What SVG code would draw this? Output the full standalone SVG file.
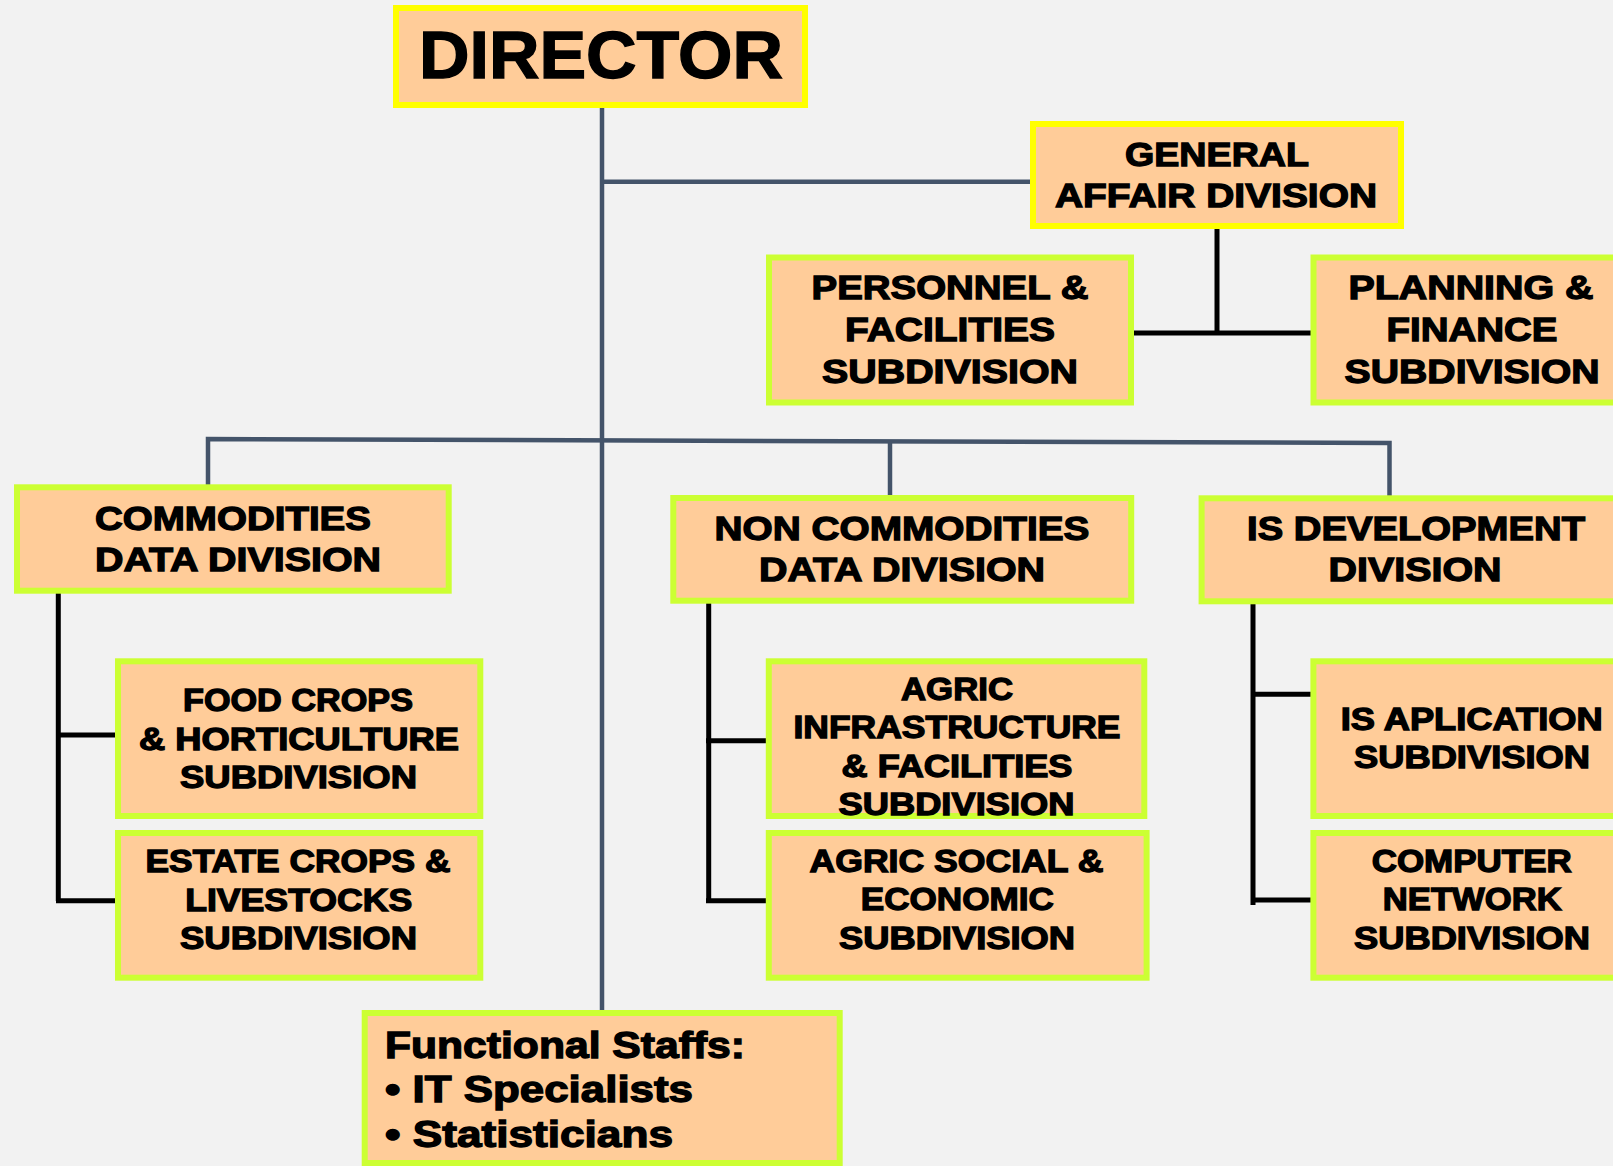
<svg xmlns="http://www.w3.org/2000/svg" width="1613" height="1166" viewBox="0 0 1613 1166">
<style>
.bg{fill:#F2F2F2}
.n{fill:#FFCC99;stroke:#CCFF33;stroke-width:6}
.ny{fill:#FFCC99;stroke:#FFFF00;stroke-width:6}
.t{font-family:"Liberation Sans",Arial,sans-serif;font-weight:bold;fill:#000;stroke:#000;stroke-width:1.3;text-anchor:middle}
.d{font-size:34px}
.s{font-size:31px}
.f{font-size:37px;text-anchor:start}
.sl{stroke:#44546A;stroke-width:4.5;fill:none}
.bk{stroke:#000;stroke-width:5;fill:none}
</style>
<rect class="bg" x="0" y="0" width="1613" height="1166"/>
<g id="connectors">
<line class="sl" x1="602" y1="106" x2="602" y2="1012"/>
<line class="sl" x1="600" y1="181.7" x2="1032" y2="181.7"/>
<polyline class="sl" points="208,487 208,439 1389.5,443 1389.5,498"/>
<line class="sl" x1="890" y1="441" x2="890" y2="496"/>
<line class="bk" x1="1217" y1="226" x2="1217" y2="333"/>
<line class="bk" x1="1132" y1="333" x2="1318" y2="333"/>
<polyline class="bk" points="58.3,592 58.3,901"/>
<line class="bk" x1="56" y1="735" x2="119" y2="735"/>
<line class="bk" x1="56" y1="900.7" x2="119" y2="900.7"/>
<polyline class="bk" points="708.7,602 708.7,901"/>
<line class="bk" x1="706" y1="740.7" x2="769" y2="740.7"/>
<line class="bk" x1="706" y1="900.7" x2="769" y2="900.7"/>
<polyline class="bk" points="1253,602 1253,905"/>
<line class="bk" x1="1251" y1="694.3" x2="1314" y2="694.3"/>
<line class="bk" x1="1251" y1="900" x2="1317" y2="900"/>
</g>
<g id="director">
<rect class="ny" x="396" y="8" width="409" height="97"/>
<text class="t" x="601" y="78" font-size="67" textLength="364" lengthAdjust="spacingAndGlyphs">DIRECTOR</text>
</g>
<g id="general-affair">
<rect class="ny" x="1033" y="124" width="368" height="102"/>
<text class="t d" x="1217" y="165.7" textLength="184" lengthAdjust="spacingAndGlyphs">GENERAL</text>
<text class="t d" x="1216" y="207" textLength="322" lengthAdjust="spacingAndGlyphs">AFFAIR DIVISION</text>
</g>
<g id="personnel">
<rect class="n" x="769" y="257.5" width="362" height="145"/>
<text class="t d" x="950" y="299" textLength="277" lengthAdjust="spacingAndGlyphs">PERSONNEL &amp;</text>
<text class="t d" x="950" y="341" textLength="210" lengthAdjust="spacingAndGlyphs">FACILITIES</text>
<text class="t d" x="950" y="383" textLength="256" lengthAdjust="spacingAndGlyphs">SUBDIVISION</text>
</g>
<g id="planning">
<rect class="n" x="1313.5" y="257.5" width="330" height="145"/>
<text class="t d" x="1471" y="299" textLength="245" lengthAdjust="spacingAndGlyphs">PLANNING &amp;</text>
<text class="t d" x="1472" y="341" textLength="171" lengthAdjust="spacingAndGlyphs">FINANCE</text>
<text class="t d" x="1472" y="383" textLength="255" lengthAdjust="spacingAndGlyphs">SUBDIVISION</text>
</g>
<g id="commodities">
<rect class="n" x="17" y="487.3" width="431.7" height="103.4"/>
<text class="t d" x="233" y="530" textLength="276" lengthAdjust="spacingAndGlyphs">COMMODITIES</text>
<text class="t d" x="238" y="570.7" textLength="286" lengthAdjust="spacingAndGlyphs">DATA DIVISION</text>
</g>
<g id="non-commodities">
<rect class="n" x="673.3" y="498" width="457.9" height="102.7"/>
<text class="t d" x="902" y="540" textLength="375" lengthAdjust="spacingAndGlyphs">NON COMMODITIES</text>
<text class="t d" x="902" y="581" textLength="286" lengthAdjust="spacingAndGlyphs">DATA DIVISION</text>
</g>
<g id="is-development">
<rect class="n" x="1201.6" y="498.3" width="440" height="103"/>
<text class="t d" x="1416" y="540" textLength="338" lengthAdjust="spacingAndGlyphs">IS DEVELOPMENT</text>
<text class="t d" x="1415" y="581" textLength="173" lengthAdjust="spacingAndGlyphs">DIVISION</text>
</g>
<g id="food-crops">
<rect class="n" x="118" y="661.3" width="362.3" height="154.7"/>
<text class="t s" x="298" y="710.7" textLength="230" lengthAdjust="spacingAndGlyphs">FOOD CROPS</text>
<text class="t s" x="299" y="750" textLength="320" lengthAdjust="spacingAndGlyphs">&amp; HORTICULTURE</text>
<text class="t s" x="298.5" y="787.7" textLength="237" lengthAdjust="spacingAndGlyphs">SUBDIVISION</text>
</g>
<g id="estate-crops">
<rect class="n" x="118" y="833" width="362.3" height="144.7"/>
<text class="t s" x="298" y="872.3" textLength="305" lengthAdjust="spacingAndGlyphs">ESTATE CROPS &amp;</text>
<text class="t s" x="298.7" y="910.7" textLength="227" lengthAdjust="spacingAndGlyphs">LIVESTOCKS</text>
<text class="t s" x="298.5" y="949.3" textLength="237" lengthAdjust="spacingAndGlyphs">SUBDIVISION</text>
</g>
<g id="agric-infrastructure">
<rect class="n" x="768.8" y="661.3" width="375.5" height="154.7"/>
<text class="t s" x="957" y="700" textLength="112" lengthAdjust="spacingAndGlyphs">AGRIC</text>
<text class="t s" x="957" y="738.3" textLength="327" lengthAdjust="spacingAndGlyphs">INFRASTRUCTURE</text>
<text class="t s" x="957" y="776.7" textLength="231" lengthAdjust="spacingAndGlyphs">&amp; FACILITIES</text>
<text class="t s" x="956.5" y="815" textLength="236" lengthAdjust="spacingAndGlyphs">SUBDIVISION</text>
</g>
<g id="agric-social">
<rect class="n" x="768.8" y="833" width="377.8" height="144.7"/>
<text class="t s" x="956.5" y="871.7" textLength="294" lengthAdjust="spacingAndGlyphs">AGRIC SOCIAL &amp;</text>
<text class="t s" x="957.3" y="910" textLength="193" lengthAdjust="spacingAndGlyphs">ECONOMIC</text>
<text class="t s" x="957" y="949" textLength="236" lengthAdjust="spacingAndGlyphs">SUBDIVISION</text>
</g>
<g id="is-application">
<rect class="n" x="1313.4" y="661.3" width="330" height="154.7"/>
<text class="t s" x="1471.7" y="730" textLength="262" lengthAdjust="spacingAndGlyphs">IS APLICATION</text>
<text class="t s" x="1472" y="768.3" textLength="236" lengthAdjust="spacingAndGlyphs">SUBDIVISION</text>
</g>
<g id="computer-network">
<rect class="n" x="1313.4" y="833" width="330" height="144.7"/>
<text class="t s" x="1471.7" y="872.3" textLength="200" lengthAdjust="spacingAndGlyphs">COMPUTER</text>
<text class="t s" x="1472.3" y="910" textLength="179" lengthAdjust="spacingAndGlyphs">NETWORK</text>
<text class="t s" x="1472" y="949" textLength="236" lengthAdjust="spacingAndGlyphs">SUBDIVISION</text>
</g>
<g id="functional-staffs">
<rect class="n" x="364.7" y="1013" width="475" height="150"/>
<text class="t f" x="385" y="1058.3" textLength="360" lengthAdjust="spacingAndGlyphs">Functional Staffs:</text>
<text class="t f" x="385" y="1101.7" textLength="308" lengthAdjust="spacingAndGlyphs">• IT Specialists</text>
<text class="t f" x="385" y="1146.7" textLength="288" lengthAdjust="spacingAndGlyphs">• Statisticians</text>
</g>
</svg>
